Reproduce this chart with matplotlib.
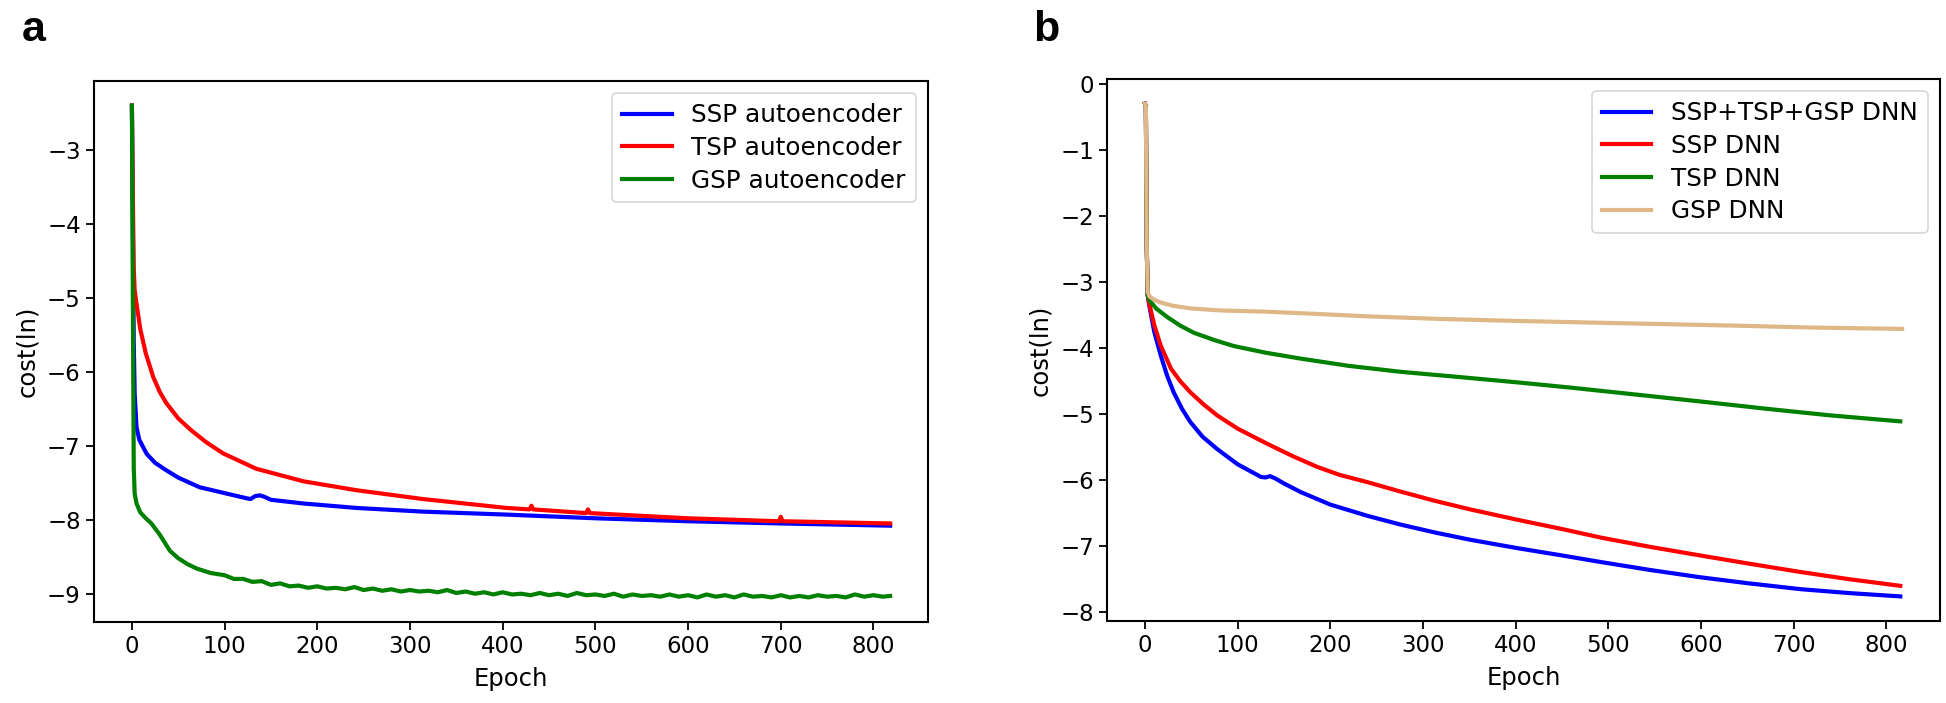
import matplotlib
matplotlib.use('Agg')
import matplotlib.pyplot as plt

# ---- panel a: autoencoder costs ----
ssp_ae_ep = [0, 1, 2, 3, 5, 8, 16, 25, 37, 50, 73, 100, 124, 128, 133, 138, 143, 150,
             185, 242, 314, 404, 500, 600, 700, 818]
ssp_ae = [-2.4, -4.0, -5.6, -6.3, -6.75, -6.92, -7.11, -7.23, -7.33, -7.43, -7.56, -7.64,
          -7.71, -7.72, -7.68, -7.67, -7.69, -7.73, -7.78, -7.84, -7.89, -7.93, -7.98,
          -8.02, -8.05, -8.08]

tsp_ae_ep = [0, 1, 2, 3, 5, 9, 15, 23, 30, 37, 50, 63, 80, 98, 134, 185, 242, 314, 404,
             429, 431, 433, 490, 492, 494, 600, 698, 700, 702, 818]
tsp_ae = [-2.4, -3.6, -4.6, -4.9, -5.08, -5.42, -5.75, -6.07, -6.27, -6.42, -6.63, -6.78,
          -6.95, -7.1, -7.31, -7.48, -7.6, -7.72, -7.84, -7.86, -7.81, -7.86, -7.91,
          -7.86, -7.91, -7.98, -8.02, -7.96, -8.02, -8.05]

gsp_ae_ep = [0, 1, 2, 3, 5, 9, 15, 21, 30, 41, 50, 60, 70, 85,
             100, 110, 120, 130, 140, 150, 160, 170, 180, 190, 200, 210, 220, 230, 240,
             250, 260, 270, 280, 290, 300, 310, 320, 330, 340, 350, 360, 370, 380, 390,
             400, 410, 420, 430, 440, 450, 460, 470, 480, 490, 500, 510, 520, 530, 540,
             550, 560, 570, 580, 590, 600, 610, 620, 630, 640, 650, 660, 670, 680, 690,
             700, 710, 720, 730, 740, 750, 760, 770, 780, 790, 800, 810, 818]
gsp_ae = [-2.4, -5.0, -7.3, -7.65, -7.78, -7.9, -7.98, -8.05, -8.2, -8.42, -8.52, -8.6,
          -8.66, -8.72,
          -8.75, -8.80, -8.80, -8.84, -8.83, -8.88, -8.86, -8.90, -8.89, -8.92, -8.90,
          -8.93, -8.92, -8.94, -8.91, -8.95, -8.93, -8.96, -8.94, -8.97, -8.95, -8.97,
          -8.96, -8.98, -8.95, -8.99, -8.97, -9.00, -8.98, -9.01, -8.98, -9.01, -9.00,
          -9.02, -8.99, -9.02, -9.00, -9.03, -8.99, -9.02, -9.01, -9.03, -9.00, -9.04,
          -9.01, -9.03, -9.02, -9.04, -9.01, -9.04, -9.02, -9.05, -9.01, -9.04, -9.02,
          -9.05, -9.01, -9.04, -9.03, -9.05, -9.02, -9.05, -9.03, -9.05, -9.02, -9.04,
          -9.03, -9.05, -9.01, -9.04, -9.02, -9.04, -9.03]

# ---- panel b: DNN costs ----
all_dnn_ep = [0, 1, 2, 3, 5, 10, 17, 24, 31, 40, 49, 62, 78, 100, 125, 130, 135, 140, 150,
              168, 200, 240, 275, 312, 350, 402, 450, 492, 545, 599, 650, 707, 760, 815]
all_dnn = [-0.3, -0.35, -2.5, -3.2, -3.38, -3.75, -4.11, -4.42, -4.67, -4.92, -5.12, -5.34,
           -5.53, -5.76, -5.95, -5.96, -5.94, -5.97, -6.05, -6.18, -6.37, -6.54, -6.67,
           -6.79, -6.90, -7.03, -7.14, -7.24, -7.36, -7.47, -7.56, -7.65, -7.71, -7.76]

ssp_dnn_ep = [0, 1, 2, 3, 5, 10, 17, 28, 38, 49, 63, 78, 100, 132, 160, 186, 210, 240, 275,
              312, 350, 402, 450, 492, 545, 599, 650, 707, 760, 815]
ssp_dnn = [-0.3, -0.35, -2.5, -3.2, -3.35, -3.65, -3.96, -4.31, -4.50, -4.67, -4.85, -5.02,
           -5.22, -5.45, -5.64, -5.80, -5.92, -6.03, -6.17, -6.31, -6.44, -6.60, -6.74,
           -6.87, -7.01, -7.14, -7.26, -7.39, -7.50, -7.60]

tsp_dnn_ep = [0, 1, 2, 3, 5, 12, 24, 38, 53, 75, 96, 130, 168, 220, 276, 340, 402, 460,
              527, 600, 671, 740, 815]
tsp_dnn = [-0.3, -0.35, -2.5, -3.2, -3.28, -3.40, -3.53, -3.66, -3.77, -3.88, -3.97, -4.07,
           -4.16, -4.27, -4.36, -4.44, -4.52, -4.60, -4.70, -4.81, -4.92, -5.02, -5.11]

gsp_dnn_ep = [0, 1, 2, 3, 5, 10, 17, 30, 49, 80, 132, 180, 240, 320, 402, 500, 635, 720, 817]
gsp_dnn = [-0.3, -0.35, -2.5, -3.15, -3.22, -3.27, -3.31, -3.36, -3.40, -3.43, -3.45, -3.48,
           -3.52, -3.56, -3.59, -3.62, -3.66, -3.69, -3.71]

plt.rcParams['font.family'] = ['DejaVu Sans']
lw = 3.0
fs_tick = 16.5
fs_label = 17.5
fs_legend = 17.8

fig = plt.figure(figsize=(19.46, 7.03), dpi=100)
ax1 = fig.add_axes([0.0483, 0.1152, 0.4286, 0.7696])
ax2 = fig.add_axes([0.5689, 0.1166, 0.4280, 0.7710])

ax1.plot(ssp_ae_ep, ssp_ae, color='blue', lw=lw, label='SSP autoencoder')
ax1.plot(tsp_ae_ep, tsp_ae, color='red', lw=lw, label='TSP autoencoder')
ax1.plot(gsp_ae_ep, gsp_ae, color='green', lw=lw, label='GSP autoencoder')

ax2.plot(all_dnn_ep, all_dnn, color='blue', lw=lw, label='SSP+TSP+GSP DNN')
ax2.plot(ssp_dnn_ep, ssp_dnn, color='red', lw=lw, label='SSP DNN')
ax2.plot(tsp_dnn_ep, tsp_dnn, color='green', lw=lw, label='TSP DNN')
ax2.plot(gsp_dnn_ep, gsp_dnn, color='burlywood', lw=lw, label='GSP DNN')

ax1.set_yticks([-3, -4, -5, -6, -7, -8, -9])
ax2.set_yticks([0, -1, -2, -3, -4, -5, -6, -7, -8])

for ax in (ax1, ax2):
    ax.set_xticks([0, 100, 200, 300, 400, 500, 600, 700, 800])
    ax.tick_params(labelsize=fs_tick, length=6, width=1.3)
    for sp in ax.spines.values():
        sp.set_linewidth(1.5)
    ax.set_xlabel('Epoch', fontsize=fs_label, labelpad=6)
    ax.set_ylabel('cost(ln)', fontsize=fs_label, labelpad=6)
    leg = ax.legend(loc='upper right', fontsize=fs_legend, borderaxespad=0.5,
                    handlelength=2.0, labelspacing=0.35)
    leg.get_frame().set_linewidth(1.2)

fig.text(0.011, 0.942, 'a', fontsize=31, fontweight='bold', family='Liberation Sans')
fig.text(0.531, 0.942, 'b', fontsize=31, fontweight='bold', family='Liberation Sans')

fig.savefig('out.png', dpi=100)
